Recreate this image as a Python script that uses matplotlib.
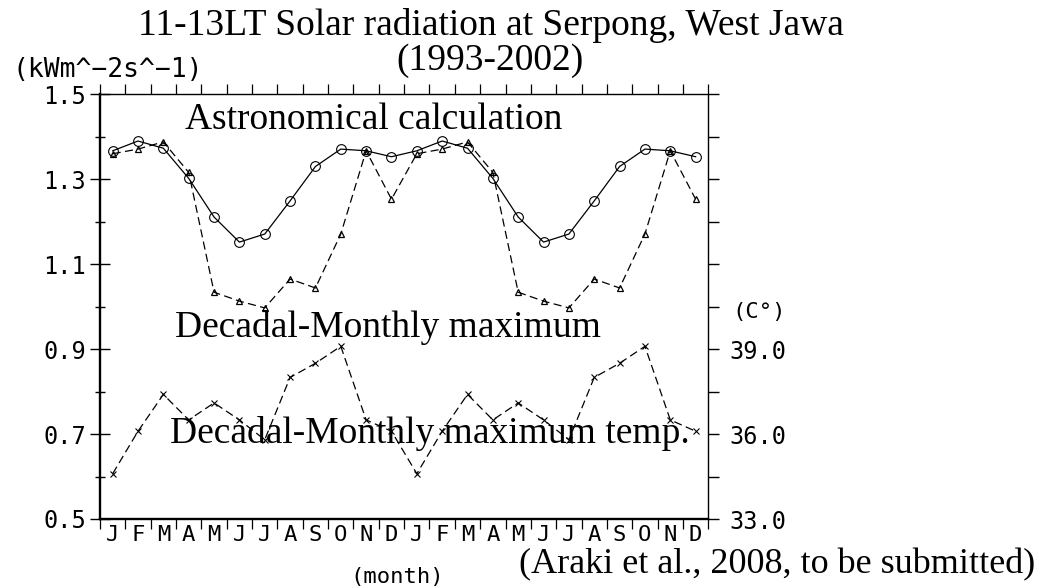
import numpy as np
import matplotlib
matplotlib.use("Agg")
import matplotlib.pyplot as plt

# Monthly climatology (1993-2002), shown over two annual cycles
months = ["J", "F", "M", "A", "M", "J", "J", "A", "S", "O", "N", "D"]
astro_calc = [1.367, 1.390, 1.373, 1.302, 1.211, 1.152,
              1.171, 1.249, 1.330, 1.371, 1.367, 1.353]
decadal_max = [1.360, 1.371, 1.388, 1.316, 1.034, 1.013,
               0.997, 1.065, 1.044, 1.171, 1.367, 1.253]
decadal_max_temp = [34.6, 36.1, 37.4, 36.5, 37.1, 36.5,
                    35.8, 38.0, 38.5, 39.1, 36.5, 36.1]

rad_ticks = [0.5, 0.7, 0.9, 1.1, 1.3, 1.5]
rad_minor = [0.6, 0.8, 1.0, 1.2, 1.4]
temp_ticks = [33.0, 34.5, 36.0, 37.5, 39.0, 40.5, 42.0, 43.5, 45.0, 46.5, 48.0]
temp_labels = ["33.0", "", "36.0", "", "39.0", "", "", "", "", "", ""]

n_cycles = 2
labels = months * n_cycles
astro_all = astro_calc * n_cycles
dmax_all = decadal_max * n_cycles
temp_all = decadal_max_temp * n_cycles
x = np.arange(len(labels)) + 0.5

mono = "DejaVu Sans Mono"
serif = "Liberation Serif"

fig = plt.figure(figsize=(10.37, 5.88), dpi=100)
ax = fig.add_axes([100 / 1037, 69 / 588, 608.3 / 1037, 424.7 / 588])
ax2 = ax.twinx()

lw = 0.9
dash = (6.5, 3.5)

ax.plot(x, astro_all, color="black", lw=lw, marker="o", ms=7,
        mfc="none", mec="black", mew=0.8)
ax.plot(x, dmax_all, color="black", lw=lw, ls="--", dashes=dash,
        marker="^", ms=4.5, mfc="none", mec="black", mew=0.9)
ax2.plot(x, temp_all, color="black", lw=lw, ls="--", dashes=dash,
         marker="x", ms=4.5, mec="black", mew=0.8)

ax.set_xlim(0, len(labels))
ax.set_ylim(0.5, 1.5)
ax2.set_ylim(33.0, 48.0)

# x axis: boundaries ticked top and bottom, month letters centred
ax.set_xticks(np.arange(0, len(labels) + 1))
ax.set_xticks(x, minor=True)
ax.set_xticklabels([""] * (len(labels) + 1))
ax.set_xticklabels(labels, minor=True, fontfamily=mono, fontsize=16)
ax.tick_params(axis="x", which="major", direction="out", length=7,
               width=0.9, top=True, bottom=True)
ax.tick_params(axis="x", which="minor", length=0, pad=4, top=False)

# left axis: radiation
ax.set_yticks(rad_ticks)
ax.set_yticks(rad_minor, minor=True)
ax.set_yticklabels([f"{v:.1f}" for v in rad_ticks], fontfamily=mono,
                   fontsize=17)
ax.tick_params(axis="y", which="major", direction="inout", length=14.5,
               width=1.0, pad=3, right=False)
ax.tick_params(axis="y", which="minor", direction="inout", length=7,
               width=1.0, right=False)

# right axis: temperature
ax2.set_yticks(temp_ticks)
ax2.set_yticklabels(temp_labels, fontfamily=mono, fontsize=17)
ax2.tick_params(axis="y", direction="out", length=8, width=1.0, pad=7)

for sp in ["left", "bottom"]:
    ax.spines[sp].set_linewidth(1.7)
ax.spines["top"].set_linewidth(1.0)
ax.spines["right"].set_visible(False)
for sp in ["left", "top", "bottom"]:
    ax2.spines[sp].set_visible(False)
ax2.spines["right"].set_linewidth(1.0)

# titles and annotations
fig.text(491 / 1037, 1 - 35 / 588,
         "11-13LT Solar radiation at Serpong, West Jawa",
         fontfamily=serif, fontsize=27, ha="center", va="baseline")
fig.text(490 / 1037, 1 - 70 / 588, "(1993-2002)",
         fontfamily=serif, fontsize=27, ha="center", va="baseline")
fig.text(185 / 1037, 1 - 129 / 588, "Astronomical calculation",
         fontfamily=serif, fontsize=27, ha="left", va="baseline")
fig.text(175 / 1037, 1 - 337 / 588, "Decadal-Monthly maximum",
         fontfamily=serif, fontsize=27, ha="left", va="baseline")
fig.text(170 / 1037, 1 - 443 / 588, "Decadal-Monthly maximum temp.",
         fontfamily=serif, fontsize=27, ha="left", va="baseline")
fig.text(1035 / 1037, 1 - 573 / 588,
         "(Araki et al., 2008, to be submitted)",
         fontfamily=serif, fontsize=26, ha="right", va="baseline")

fig.text(12 / 1037, 1 - 77 / 588, "(kWm^\u22122s^\u22121)",
         fontfamily=mono, fontsize=19, ha="left", va="baseline")
fig.text(397 / 1037, 1 - 583 / 588, "(month)",
         fontfamily=mono, fontsize=16, ha="center", va="baseline")
fig.text(732 / 1037, 1 - 318 / 588, "(C\u00b0)",
         fontfamily=mono, fontsize=16, ha="left", va="baseline")

fig.savefig("out.png", dpi=100)
